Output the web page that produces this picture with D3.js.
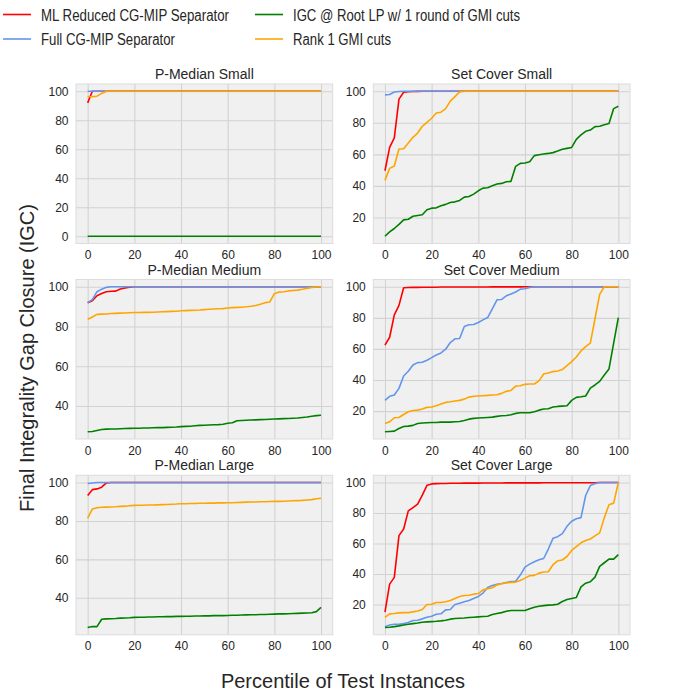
<!DOCTYPE html>
<html>
<head>
<meta charset="utf-8">
<script src="https://cdn.jsdelivr.net/npm/d3@7"></script>
<style>
  body { margin: 0; background: #fff; }
  svg text { font-family: "Liberation Sans", Arial, sans-serif; }
</style>
</head>
<body>
<svg id="chart" width="684" height="696"></svg>
<script>
// Percentile of test instances (x for every series)
var percentile = [0, 2, 4, 6, 8, 10, 12, 14, 16, 18, 20, 22, 24, 26, 28, 30, 32, 34, 36, 38, 40,
  42, 44, 46, 48, 50, 52, 54, 56, 58, 60, 62, 64, 66, 68, 70, 72, 74, 76, 78, 80,
  82, 84, 86, 88, 90, 92, 94, 96, 98, 100];

var xTickValues = [0, 20, 40, 60, 80, 100];
var yTickValues = [0, 20, 40, 60, 80, 100];

var seriesNames = ["ML Reduced CG-MIP Separator", "Full CG-MIP Separator",
  "IGC @ Root LP w/ 1 round of GMI cuts", "Rank 1 GMI cuts"];

// ---- P-Median Small
var pmSmallRed = [92, 100, 100, 100, 100, 100, 100, 100, 100, 100, 100, 100, 100, 100, 100, 100, 100,
  100, 100, 100, 100, 100, 100, 100, 100, 100, 100, 100, 100, 100, 100, 100, 100, 100, 100, 100,
  100, 100, 100, 100, 100, 100, 100, 100, 100, 100, 100, 100, 100, 100, 100];
var pmSmallBlue = [100, 100, 100, 100, 100, 100, 100, 100, 100, 100, 100, 100, 100, 100, 100, 100, 100,
  100, 100, 100, 100, 100, 100, 100, 100, 100, 100, 100, 100, 100, 100, 100, 100, 100, 100, 100,
  100, 100, 100, 100, 100, 100, 100, 100, 100, 100, 100, 100, 100, 100, 100];
var pmSmallGreen = [0, 0, 0, 0, 0, 0, 0, 0, 0, 0, 0, 0, 0, 0, 0, 0, 0, 0, 0, 0, 0, 0, 0, 0, 0, 0,
  0, 0, 0, 0, 0, 0, 0, 0, 0, 0, 0, 0, 0, 0, 0, 0, 0, 0, 0, 0, 0, 0, 0, 0, 0];
var pmSmallOrange = [96.2, 96.3, 96.6, 98.5, 100, 100, 100, 100, 100, 100, 100, 100, 100, 100, 100, 100,
  100, 100, 100, 100, 100, 100, 100, 100, 100, 100, 100, 100, 100, 100, 100, 100, 100, 100, 100,
  100, 100, 100, 100, 100, 100, 100, 100, 100, 100, 100, 100, 100, 100, 100, 100];

// ---- Set Cover Small
var scSmallRed = [49.6, 64.4, 70.4, 95.0, 99.4, 99.7, 99.8, 99.9, 100, 100, 100, 100, 100, 100, 100,
  100, 100, 100, 100, 100, 100, 100, 100, 100, 100, 100, 100, 100, 100, 100, 100, 100, 100, 100,
  100, 100, 100, 100, 100, 100, 100, 100, 100, 100, 100, 100, 100, 100, 100, 100, 100];
var scSmallBlue = [97.7, 97.9, 99.5, 99.8, 100, 100, 100, 100, 100, 100, 100, 100, 100, 100, 100, 100,
  100, 100, 100, 100, 100, 100, 100, 100, 100, 100, 100, 100, 100, 100, 100, 100, 100, 100, 100,
  100, 100, 100, 100, 100, 100, 100, 100, 100, 100, 100, 100, 100, 100, 100, 100];
var scSmallGreen = [8.1, 10.9, 13.0, 15.6, 18.5, 18.9, 20.8, 21.3, 21.7, 24.9, 25.9, 26.1, 27.4, 28.3,
  29.5, 29.9, 30.8, 32.9, 33.3, 34.8, 36.9, 38.6, 38.8, 40.1, 41.2, 41.6, 42.6, 42.9, 52.4, 54.3,
  54.5, 55.3, 59.2, 59.8, 60.2, 60.6, 61.1, 62.1, 63.2, 63.8, 64.4, 69.5, 72.3, 74.6, 75.4, 77.6,
  77.8, 78.8, 79.5, 89.0, 90.5];
var scSmallOrange = [43.5, 51.1, 52.6, 63.4, 63.6, 67.2, 70.8, 73.5, 77.8, 80.3, 82.9, 86.2, 86.7, 89.0,
  93.7, 96.6, 99.6, 100, 100, 100, 100, 100, 100, 100, 100, 100, 100, 100, 100, 100, 100, 100, 100,
  100, 100, 100, 100, 100, 100, 100, 100, 100, 100, 100, 100, 100, 100, 100, 100, 100, 100];

// ---- P-Median Medium
var pmMediumRed = [92, 93, 95.5, 96.6, 97.5, 97.7, 97.8, 98.9, 99.4, 99.8, 100, 100, 100, 100, 100, 100,
  100, 100, 100, 100, 100, 100, 100, 100, 100, 100, 100, 100, 100, 100, 100, 100, 100, 100, 100,
  100, 100, 100, 100, 100, 100, 100, 100, 100, 100, 100, 100, 100, 100, 100, 100];
var pmMediumBlue = [92, 93.5, 97.5, 98.8, 99.7, 100, 100, 100, 100, 100, 100, 100, 100, 100, 100, 100,
  100, 100, 100, 100, 100, 100, 100, 100, 100, 100, 100, 100, 100, 100, 100, 100, 100, 100, 100,
  100, 100, 100, 100, 100, 100, 100, 100, 100, 100, 100, 100, 100, 100, 100, 100];
var pmMediumGreen = [27.0, 27.1, 27.6, 28.1, 28.3, 28.4, 28.4, 28.5, 28.6, 28.7, 28.8, 28.8, 28.9, 28.9,
  29.0, 29.1, 29.1, 29.2, 29.3, 29.4, 29.6, 29.7, 29.8, 30.0, 30.2, 30.3, 30.4, 30.5, 30.6, 30.8,
  31.3, 31.5, 32.5, 32.7, 32.8, 32.9, 33.0, 33.1, 33.2, 33.3, 33.4, 33.5, 33.6, 33.7, 33.8, 33.9,
  34.2, 34.4, 34.8, 35.1, 35.3];
var pmMediumOrange = [83.6, 84.8, 86.1, 86.2, 86.3, 86.5, 86.6, 86.7, 86.8, 86.9, 87.0, 87.0, 87.1, 87.1,
  87.2, 87.3, 87.4, 87.5, 87.6, 87.7, 87.9, 88.0, 88.1, 88.2, 88.3, 88.5, 88.7, 88.8, 88.9, 89.0,
  89.3, 89.5, 89.6, 89.7, 89.9, 90.2, 90.6, 91.2, 92.0, 92.3, 96.5, 97.3, 97.5, 97.9, 98.1, 98.3,
  98.7, 99.2, 99.6, 99.9, 100];

// ---- Set Cover Medium
var scMediumRed = [62.4, 67.5, 81.9, 88.0, 99.4, 99.5, 99.6, 99.6, 99.7, 99.7, 99.7, 99.7, 99.8, 99.8,
  99.8, 99.8, 99.8, 99.8, 99.8, 99.8, 99.8, 99.8, 99.8, 99.9, 99.9, 99.9, 99.9, 99.9, 99.9, 99.9,
  100, 100, 100, 100, 100, 100, 100, 100, 100, 100, 100, 100, 100, 100, 100, 100, 100, 100, 100,
  100, 100];
var scMediumBlue = [26.9, 29.5, 30.3, 34.6, 42.6, 45.6, 49.7, 51.2, 51.4, 52.7, 54.4, 56.1, 57.4, 59.8,
  64.1, 66.5, 66.7, 74.4, 75.5, 75.7, 77.0, 78.7, 80.2, 85.8, 91.6, 91.8, 94.2, 95.3, 96.6, 98.5,
  98.7, 99.6, 100, 100, 100, 100, 100, 100, 100, 100, 100, 100, 100, 100, 100, 100, 100, 100, 100,
  100, 100];
var scMediumGreen = [6.7, 6.9, 7.1, 8.8, 10.1, 10.3, 10.8, 12.0, 12.3, 12.5, 12.7, 12.7, 12.9, 12.9, 12.9,
  13.1, 13.3, 14.0, 14.8, 15.3, 15.5, 15.7, 15.9, 16.1, 16.6, 17.0, 17.2, 17.6, 18.5, 18.9, 18.9,
  18.9, 19.6, 20.6, 21.3, 21.5, 22.6, 23.0, 23.2, 23.4, 26.9, 28.8, 29.2, 29.7, 34.8, 36.8, 39.1,
  43.2, 47.1, 63.7, 80.2];
var scMediumOrange = [12.0, 13.1, 15.7, 15.9, 17.8, 19.6, 20.4, 20.6, 21.3, 22.4, 22.6, 23.4, 24.5, 25.6,
  26.0, 26.5, 26.9, 27.7, 29.0, 29.5, 29.7, 29.9, 30.1, 30.3, 30.5, 31.4, 32.7, 33.3, 36.1, 36.3,
  37.2, 37.4, 37.4, 39.4, 43.9, 44.5, 45.4, 45.8, 46.7, 49.2, 51.8, 54.8, 58.7, 61.5, 63.7, 79.4,
  95.1, 100, 100, 100, 100];

// ---- P-Median Large
var pmLargeRed = [93.2, 96.3, 96.7, 97.6, 99.8, 100, 100, 100, 100, 100, 100, 100, 100, 100, 100, 100,
  100, 100, 100, 100, 100, 100, 100, 100, 100, 100, 100, 100, 100, 100, 100, 100, 100, 100, 100,
  100, 100, 100, 100, 100, 100, 100, 100, 100, 100, 100, 100, 100, 100, 100, 100];
var pmLargeBlue = [99.5, 99.8, 100, 100, 100, 100, 100, 100, 100, 100, 100, 100, 100, 100, 100, 100,
  100, 100, 100, 100, 100, 100, 100, 100, 100, 100, 100, 100, 100, 100, 100, 100, 100, 100, 100,
  100, 100, 100, 100, 100, 100, 100, 100, 100, 100, 100, 100, 100, 100, 100, 100];
var pmLargeGreen = [24.5, 25.0, 25.0, 28.8, 29.0, 29.1, 29.2, 29.4, 29.5, 29.6, 29.8, 29.9, 29.9, 30.0,
  30.0, 30.1, 30.1, 30.2, 30.2, 30.3, 30.3, 30.4, 30.4, 30.5, 30.5, 30.6, 30.6, 30.7, 30.7, 30.7,
  30.8, 30.9, 30.9, 31.0, 31.1, 31.2, 31.2, 31.3, 31.3, 31.4, 31.5, 31.6, 31.6, 31.7, 31.8, 31.9,
  32.0, 32.1, 32.2, 32.8, 35.0];
var pmLargeOrange = [81.5, 86.2, 86.9, 87.1, 87.2, 87.3, 87.4, 87.6, 87.7, 87.9, 88.1, 88.2, 88.2, 88.3,
  88.3, 88.4, 88.5, 88.6, 88.7, 88.8, 89.0, 89.0, 89.1, 89.1, 89.2, 89.2, 89.3, 89.3, 89.4, 89.4,
  89.5, 89.5, 89.6, 89.7, 89.8, 89.9, 89.9, 90.0, 90.0, 90.1, 90.2, 90.2, 90.3, 90.4, 90.5, 90.6,
  90.7, 90.9, 91.1, 91.6, 91.8];

// ---- Set Cover Large
var scLargeRed = [15.0, 33.4, 37.8, 65.2, 69.5, 81.4, 83.6, 85.8, 91.7, 98.2, 99.1, 99.3, 99.4, 99.4,
  99.5, 99.5, 99.5, 99.6, 99.6, 99.6, 99.6, 99.7, 99.7, 99.7, 99.7, 99.7, 99.8, 99.8, 99.8, 99.8,
  99.8, 99.8, 99.8, 99.8, 99.9, 99.9, 99.9, 99.9, 99.9, 99.9, 99.9, 99.9, 99.9, 99.9, 99.9, 99.9,
  100, 100, 100, 100, 100];
var scLargeBlue = [5.5, 6.6, 7.1, 7.1, 7.5, 8.2, 9.5, 9.7, 10.6, 11.7, 12.3, 13.6, 13.9, 16.5, 16.7,
  20.0, 20.9, 21.8, 22.6, 24.0, 25.3, 27.5, 31.2, 32.5, 33.2, 33.8, 34.5, 35.1, 35.3, 39.3, 44.5,
  46.5, 48.1, 49.4, 50.2, 56.4, 63.4, 64.5, 66.5, 71.3, 74.6, 76.3, 77.0, 91.5, 98.0, 99.3, 100,
  100, 100, 100, 100];
var scLargeGreen = [4.9, 5.1, 5.5, 6.0, 6.6, 7.1, 7.5, 7.9, 8.4, 8.6, 8.8, 9.0, 9.3, 9.7, 10.4, 10.8,
  11.0, 11.2, 11.5, 11.7, 11.9, 12.1, 12.3, 13.4, 14.1, 14.7, 15.6, 16.1, 16.1, 16.1, 16.1, 17.2,
  18.2, 18.9, 19.3, 19.6, 19.8, 20.2, 22.0, 23.3, 24.0, 24.6, 31.6, 34.0, 34.9, 38.0, 45.0, 47.4,
  49.8, 49.8, 52.7];
var scLargeOrange = [11.5, 13.9, 14.1, 14.5, 14.7, 14.7, 15.2, 15.8, 16.7, 20.0, 20.2, 21.3, 21.3, 21.8,
  22.6, 24.0, 25.3, 25.9, 26.1, 26.8, 27.2, 29.6, 30.3, 31.0, 32.9, 33.6, 34.2, 34.5, 34.7, 35.8,
  37.3, 38.9, 39.1, 40.6, 41.3, 41.5, 46.1, 48.7, 49.2, 51.5, 55.5, 58.0, 60.5, 62.0, 63.0, 65.0,
  67.0, 77.0, 85.5, 86.5, 100];

// Panel layout (row, col) and the series each one holds, in draw order
var panels = [
  { title: "P-Median Small", row: 0, col: 0, series: [pmSmallRed, pmSmallBlue, pmSmallGreen, pmSmallOrange] },
  { title: "Set Cover Small", row: 0, col: 1, series: [scSmallRed, scSmallBlue, scSmallGreen, scSmallOrange] },
  { title: "P-Median Medium", row: 1, col: 0, series: [pmMediumRed, pmMediumBlue, pmMediumGreen, pmMediumOrange] },
  { title: "Set Cover Medium", row: 1, col: 1, series: [scMediumRed, scMediumBlue, scMediumGreen, scMediumOrange] },
  { title: "P-Median Large", row: 2, col: 0, series: [pmLargeRed, pmLargeBlue, pmLargeGreen, pmLargeOrange] },
  { title: "Set Cover Large", row: 2, col: 1, series: [scLargeRed, scLargeBlue, scLargeGreen, scLargeOrange] }
];

var colors = ["#ff0000", "#6495ed", "#008000", "#ffa500"];

var svg = d3.select("#chart"),
  colX = [76, 373.3],
  rowY = [84, 279.5, 475.3],
  axW = 256.7,
  axH = 159.5,
  textColor = "#262626";

panels.forEach(function (p) {
  var g = svg.append("g")
    .attr("transform", "translate(" + colX[p.col] + "," + rowY[p.row] + ")");

  // matplotlib-like 5% margins
  var all = d3.merge(p.series),
    lo = d3.min(all),
    hi = d3.max(all),
    pad = (hi - lo) * 0.05;

  var x = d3.scaleLinear().domain([-5, 105]).range([0, axW]);
  var y = d3.scaleLinear().domain([lo - pad, hi + pad]).range([axH, 0]);
  var yt = yTickValues.filter(function (v) { return v >= lo - pad && v <= hi + pad; });

  g.append("rect").attr("width", axW).attr("height", axH).attr("fill", "#f0f0f0");

  // grid lines
  g.append("g")
    .attr("class", "grid")
    .attr("transform", "translate(0," + axH + ")")
    .call(d3.axisBottom(x).tickValues(xTickValues).tickSize(-axH).tickFormat(""));
  g.append("g")
    .attr("class", "grid")
    .call(d3.axisLeft(y).tickValues(yt).tickSize(-axW).tickFormat(""));
  g.selectAll(".grid .domain").remove();
  g.selectAll(".grid line").attr("stroke", "#d2d2d2").attr("stroke-width", 1.1);

  // frame
  g.append("rect")
    .attr("width", axW).attr("height", axH)
    .attr("fill", "none").attr("stroke", "#dcdcdc").attr("stroke-width", 1);

  // tick labels
  var xa = g.append("g")
    .attr("transform", "translate(0," + axH + ")")
    .call(d3.axisBottom(x).tickValues(xTickValues).tickSize(0).tickPadding(7));
  var ya = g.append("g")
    .call(d3.axisLeft(y).tickValues(yt).tickSize(0).tickPadding(7.5));
  [xa, ya].forEach(function (a) {
    a.select(".domain").remove();
    a.attr("font-size", 12).attr("color", textColor);
  });

  // lines
  var line = d3.line()
    .x(function (d, i) { return x(percentile[i]); })
    .y(function (d) { return y(d); });
  p.series.forEach(function (s, i) {
    g.append("path")
      .datum(s)
      .attr("d", line)
      .attr("fill", "none")
      .attr("stroke", colors[i])
      .attr("stroke-width", 1.6)
      .attr("stroke-linejoin", "round");
  });

  g.append("text")
    .attr("x", axW / 2)
    .attr("y", -5)
    .attr("text-anchor", "middle")
    .attr("font-size", 14)
    .attr("fill", textColor)
    .text(p.title);
});

// legend: two columns, filled column-wise
var legendPos = [[3, 14.5], [3, 39], [255, 14.5], [255, 39]],
  legendWidths = [188, 134, 227, 98];
seriesNames.forEach(function (name, i) {
  var lg = svg.append("g").attr("transform", "translate(" + legendPos[i][0] + "," + legendPos[i][1] + ")");
  lg.append("line")
    .attr("x1", 0).attr("x2", 28)
    .attr("stroke", colors[i]).attr("stroke-width", 1.6);
  lg.append("text")
    .attr("x", 38)
    .attr("y", 6)
    .attr("font-size", 16)
    .attr("fill", textColor)
    .attr("textLength", legendWidths[i])
    .attr("lengthAdjust", "spacingAndGlyphs")
    .text(name);
});

// axis labels
svg.append("text")
  .attr("transform", "translate(34,358) rotate(-90)")
  .attr("text-anchor", "middle")
  .attr("font-size", 20)
  .attr("fill", textColor)
  .text("Final Integrality Gap Closure (IGC)");

svg.append("text")
  .attr("x", 343)
  .attr("y", 688)
  .attr("text-anchor", "middle")
  .attr("font-size", 20)
  .attr("fill", textColor)
  .text("Percentile of Test Instances");
</script>
</body>
</html>
